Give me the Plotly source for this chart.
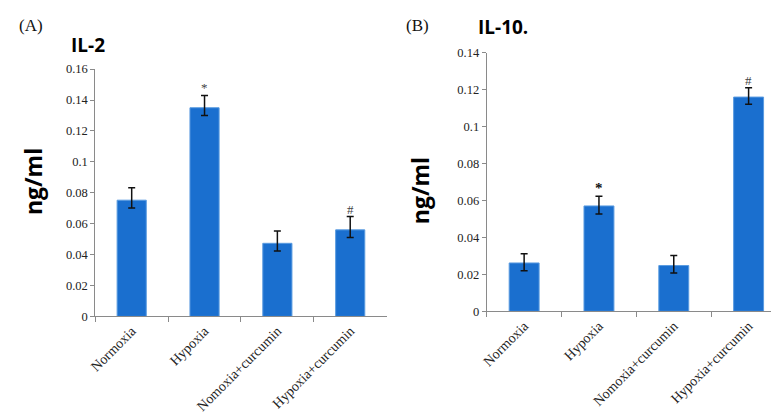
import plotly.graph_objects as go

categories = ["Normoxia", "Hypoxia", "Nomoxia+curcumin", "Hypoxia+curcumin"]

il2_values = [0.0752, 0.135, 0.0473, 0.056]
il2_err_plus = [0.008, 0.008, 0.008, 0.0086]
il2_err_minus = [0.005, 0.005, 0.005, 0.005]
il2_marks = ["", "*", "", "#"]

il10_values = [0.0262, 0.0571, 0.0248, 0.1161]
il10_err_plus = [0.005, 0.0052, 0.0054, 0.005]
il10_err_minus = [0.0042, 0.0044, 0.004, 0.0039]
il10_marks = ["", "<b>*</b>", "", "#"]

il2_ticks = [0, 0.02, 0.04, 0.06, 0.08, 0.1, 0.12, 0.14, 0.16]
il2_ticklabels = ["0", "0.02", "0.04", "0.06", "0.08", "0.1", "0.12", "0.14", "0.16"]
il10_ticks = [0, 0.02, 0.04, 0.06, 0.08, 0.1, 0.12, 0.14]
il10_ticklabels = ["0", "0.02", "0.04", "0.06", "0.08", "0.1", "0.12", "0.14"]

BAR = "#1a6fcf"
EDGE = "#5a9be0"
SERIF = "Liberation Serif, Times New Roman, serif"
SANS = "Open Sans, Liberation Sans, Arial, sans-serif"

fig = go.Figure()
for vals, ep, em, xa, ya in [
    (il2_values, il2_err_plus, il2_err_minus, "x", "y"),
    (il10_values, il10_err_plus, il10_err_minus, "x2", "y2"),
]:
    fig.add_trace(go.Bar(
        x=categories, y=vals, xaxis=xa, yaxis=ya,
        marker=dict(color=BAR, line=dict(color=EDGE, width=1)),
        error_y=dict(type="data", symmetric=False, array=ep, arrayminus=em,
                     color="#111111", thickness=1.5, width=3.5),
        showlegend=False,
    ))

W, H = 779, 413

def px(x):
    return x / W

def py(y):
    return 1 - y / H

axis_common = dict(
    showgrid=False, zeroline=False, showline=True, linecolor="#8a8a8a", linewidth=1,
)

fig.update_layout(
    width=W, height=H,
    margin=dict(l=0, r=0, t=0, b=0),
    paper_bgcolor="white", plot_bgcolor="white",
    bargap=0.6,
    xaxis=dict(domain=[px(81), px(375)], anchor="y", type="category",
               tickangle=-45, tickson="boundaries", ticks="outside", ticklen=5,
               tickcolor="#8a8a8a", tickfont=dict(family=SERIF, size=14, color="#222"),
               **axis_common),
    yaxis=dict(domain=[py(312), py(56)], anchor="x", range=[0, 0.16],
               tickvals=il2_ticks, ticktext=il2_ticklabels, ticks="outside", ticklen=4,
               tickcolor="#8a8a8a", tickfont=dict(family=SERIF, size=12.5, color="#222"),
               **axis_common),
    xaxis2=dict(domain=[px(476), px(778)], anchor="y2", type="category",
                tickangle=-45, tickson="boundaries", ticks="outside", ticklen=5,
                tickcolor="#8a8a8a", tickfont=dict(family=SERIF, size=14, color="#222"),
                **axis_common),
    yaxis2=dict(domain=[py(306.7), py(39.3)], anchor="x2", range=[0, 0.14],
                tickvals=il10_ticks, ticktext=il10_ticklabels, ticks="outside", ticklen=4,
                tickcolor="#8a8a8a", tickfont=dict(family=SERIF, size=12.5, color="#222"),
                **axis_common),
)

annotations = []
for cat, v, ep, m in zip(categories, il2_values, il2_err_plus, il2_marks):
    if m:
        annotations.append(dict(x=cat, y=v + ep, xref="x", yref="y", text=m,
                                showarrow=False, yanchor="bottom", yshift=-2,
                                font=dict(family=SERIF, size=13, color="#444")))
for cat, v, ep, m in zip(categories, il10_values, il10_err_plus, il10_marks):
    if m:
        annotations.append(dict(x=cat, y=v + ep, xref="x2", yref="y2", text=m,
                                showarrow=False, yanchor="bottom", yshift=-2,
                                font=dict(family=SERIF, size=15 if "*" in m else 13,
                                          color="#111" if "*" in m else "#444")))

annotations += [
    dict(x=px(2), y=py(11), xref="paper", yref="paper", text="(A)", showarrow=False,
         xanchor="left", yanchor="middle", font=dict(family=SERIF, size=17, color="#111")),
    dict(x=px(54), y=py(31), xref="paper", yref="paper", text="<b>IL-2</b>", showarrow=False,
         xanchor="left", yanchor="middle", font=dict(family=SANS, size=19, color="#000")),
    dict(x=px(18), y=py(172), xref="paper", yref="paper", text="<b>ng/ml</b>", showarrow=False,
         textangle=-90, xanchor="center", yanchor="middle",
         font=dict(family=SANS, size=23, color="#000")),
    dict(x=px(393), y=py(11), xref="paper", yref="paper", text="(B)", showarrow=False,
         xanchor="left", yanchor="middle", font=dict(family=SERIF, size=17, color="#111")),
    dict(x=px(465), y=py(12), xref="paper", yref="paper", text="<b>IL-10.</b>", showarrow=False,
         xanchor="left", yanchor="middle", font=dict(family=SANS, size=19, color="#000")),
    dict(x=px(408), y=py(182), xref="paper", yref="paper", text="<b>ng/ml</b>", showarrow=False,
         textangle=-90, xanchor="center", yanchor="middle",
         font=dict(family=SANS, size=23, color="#000")),
]
fig.update_layout(annotations=annotations)

fig.write_html("out.html")
